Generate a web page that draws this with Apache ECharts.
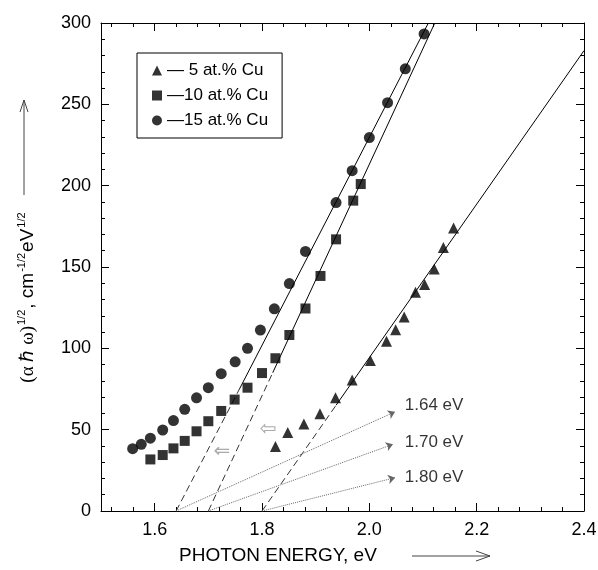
<!DOCTYPE html>
<html>
<head>
<meta charset="utf-8">
<script src="https://cdn.jsdelivr.net/npm/echarts@6/dist/echarts.min.js"></script>
<style>
  html, body { margin: 0; padding: 0; background: #fff; }
  #wrap { position: relative; width: 598px; height: 570px; }
  #chart, #notes { position: absolute; left: 0; top: 0; width: 598px; height: 570px; }
  #notes { pointer-events: none; }
</style>
</head>
<body>
<div id="wrap"><div id="chart"></div><div id="notes"></div></div>
<script>
const cu5X = [1.825, 1.848, 1.878, 1.908, 1.937, 1.968, 2.002, 2.032, 2.049, 2.065, 2.086, 2.103, 2.121, 2.138, 2.157];
const cu5Y = [39.6, 48.3, 53.5, 59.8, 69.6, 80.6, 92.5, 104.3, 111.4, 119.2, 134.5, 139.2, 148.8, 162, 174];

const cu10X = [1.592, 1.615, 1.635, 1.656, 1.678, 1.700, 1.724, 1.749, 1.773, 1.800, 1.825, 1.851, 1.881, 1.909, 1.938, 1.970, 1.984];
const cu10Y = [31.7, 34.4, 38.5, 43.1, 49, 55.2, 61.5, 68.5, 75.8, 84.8, 93.9, 108.2, 124.5, 144.5, 167, 190.8, 201];

const cu15X = [1.559, 1.575, 1.592, 1.615, 1.635, 1.656, 1.678, 1.700, 1.724, 1.750, 1.773, 1.797, 1.823, 1.851, 1.881, 1.938, 1.968, 2.000, 2.034, 2.067, 2.102];
const cu15Y = [38.3, 41, 44.8, 49.8, 55.6, 62.5, 69.6, 75.8, 84.4, 91.7, 100, 111.2, 124.3, 139.8, 159.6, 189.6, 209.2, 229.6, 251, 271.8, 293.3];

const seriesNames = ['\u2014 5 at.% Cu', '\u201410 at.% Cu', '\u201415 at.% Cu'];

// Linear fits: zero crossing, point where the dashed part turns solid, end point
const fit5 = [[1.80, 0], [1.938, 65], [2.40, 283]];
const fit10 = [[1.70, 0], [1.820, 85], [2.122, 300]];
const fit15 = [[1.64, 0], [1.758, 75], [2.110, 300]];

// Band-gap arrows and their labels
const gapValues = [1.64, 1.70, 1.80];
const gapArrowEnds = [[2.048, 61], [2.044, 41], [2.048, 20.5]];
const gapLabels = ['1.64 eV', '1.70 eV', '1.80 eV'];
const gapLabelPos = [[2.066, 65], [2.066, 42.5], [2.066, 21]];

const zip = (xs, ys) => xs.map((x, i) => [x, ys[i]]);
const FONT = 'Arial, "Liberation Sans", sans-serif';
const GRID = { left: 101, right: 14, top: 23, bottom: 59, containLabel: false, outerBoundsMode: 'none' };

// Frame with inward ticks (labels are drawn by the overlay's axes)
const xFrame = (position) => ({
  type: 'value', min: 1.5, max: 2.4, position,
  splitLine: { show: false },
  axisLine: { show: true, onZero: false, lineStyle: { color: '#000' } },
  axisTick: { show: true, inside: true, length: 8, lineStyle: { color: '#000' } },
  minorTick: { show: true, splitNumber: 5, length: 4, lineStyle: { color: '#000' } },
  minorSplitLine: { show: false },
  axisLabel: { show: false },
});
const yFrame = (position) => ({
  type: 'value', min: 0, max: 300, interval: 50, position,
  splitLine: { show: false },
  axisLine: { show: true, onZero: false, lineStyle: { color: '#000' } },
  axisTick: { show: true, inside: true, length: 8, lineStyle: { color: '#000' } },
  minorTick: { show: true, splitNumber: 5, length: 4, lineStyle: { color: '#000' } },
  minorSplitLine: { show: false },
  axisLabel: { show: false },
});

const fitSeries = (pts) => [
  {
    type: 'line', data: pts.slice(0, 2), showSymbol: false, silent: true,
    lineStyle: { color: '#333', width: 1, type: [7, 4] }, z: 1,
  },
  {
    type: 'line', data: pts.slice(1), showSymbol: false, silent: true,
    lineStyle: { color: '#000', width: 1 }, z: 1,
  },
];

const chart = echarts.init(document.getElementById('chart'));
chart.setOption({
  animation: false,
  grid: GRID,
  xAxis: [xFrame('bottom'), xFrame('top')],
  yAxis: [yFrame('left'), yFrame('right')],
  series: [
    ...fitSeries(fit5),
    ...fitSeries(fit10),
    ...fitSeries(fit15),
    {
      name: seriesNames[0], type: 'scatter', symbol: 'triangle', symbolSize: 11,
      itemStyle: { color: '#000' }, data: zip(cu5X, cu5Y), z: 3,
    },
    {
      name: seriesNames[1], type: 'scatter', symbol: 'rect', symbolSize: 10,
      itemStyle: { color: '#000' }, data: zip(cu10X, cu10Y), z: 3,
    },
    {
      name: seriesNames[2], type: 'scatter', symbol: 'circle', symbolSize: 11,
      itemStyle: { color: '#000' }, data: zip(cu15X, cu15Y), z: 3,
    },
  ],
});

// Overlay: tick labels, legend, gap arrows and titles on the same scales
const notes = echarts.init(document.getElementById('notes'));
notes.setOption({
  animation: false,
  grid: GRID,
  xAxis: {
    type: 'value', min: 1.5, max: 2.4,
    splitLine: { show: false }, axisLine: { show: false, onZero: false }, axisTick: { show: false },
    axisLabel: {
      showMinLabel: false, margin: 10, color: '#000',
      fontFamily: FONT, fontSize: 18, formatter: (v) => v.toFixed(1),
    },
  },
  yAxis: {
    type: 'value', min: 0, max: 300, interval: 50,
    splitLine: { show: false }, axisLine: { show: false }, axisTick: { show: false },
    axisLabel: { margin: 10, color: '#000', fontFamily: FONT, fontSize: 18 },
  },
  legend: {
    orient: 'vertical', left: 137, top: 53,
    padding: [9, 14, 9, 15], itemGap: 8, itemWidth: 10, itemHeight: 10,
    borderColor: '#000', borderWidth: 1,
    textStyle: { fontFamily: FONT, fontSize: 17, color: '#000' },
    data: [
      { name: seriesNames[0], icon: 'triangle' },
      { name: seriesNames[1], icon: 'rect' },
      { name: seriesNames[2], icon: 'circle' },
    ],
  },
  series: [
    ...seriesNames.map((n) => ({ name: n, type: 'scatter', data: [], itemStyle: { color: '#000' } })),
    {
      type: 'line', data: [],
      markLine: {
        symbol: ['none', 'arrow'], symbolSize: 7,
        label: { show: false },
        lineStyle: { color: '#666', width: 1, type: 'dotted' },
        data: gapValues.map((g, i) => [{ coord: [g, 0] }, { coord: gapArrowEnds[i] }]),
      },
    },
    {
      type: 'scatter', symbolSize: 0,
      data: gapLabels.map((t, i) => ({ name: t, value: gapLabelPos[i] })),
      label: {
        show: true, position: 'right', distance: 0, formatter: '{b}',
        color: '#000', fontFamily: FONT, fontSize: 17,
      },
    },
  ],
  graphic: [
    {
      type: 'text', x: 28, y: 297, rotation: Math.PI / 2,
      style: {
        text: '{m|(\u03b1 \u210f \u03c9)}{s|1/2}{t|, cm}{s|-1/2}{t|eV}{s|1/2}',
        align: 'center', verticalAlign: 'middle',
        rich: {
          m: { fontFamily: '"Liberation Serif", "Times New Roman", serif', fontSize: 19, fill: '#000', lineHeight: 24 },
          t: { fontFamily: FONT, fontSize: 19, fill: '#000', lineHeight: 24 },
          s: { fontFamily: FONT, fontSize: 11, fill: '#000', verticalAlign: 'top', lineHeight: 24, padding: [0, 1, 12, 1] },
        },
      },
    },
    { type: 'line', shape: { x1: 24, y1: 195, x2: 24, y2: 100 }, style: { stroke: '#444', lineWidth: 1 } },
    { type: 'polyline', shape: { points: [[20, 112], [24, 100], [28, 112]] }, style: { stroke: '#444', lineWidth: 1, fill: null } },
    {
      type: 'text', x: 179, y: 556,
      style: { text: 'PHOTON ENERGY, eV', fontFamily: FONT, fontSize: 19, fill: '#000', verticalAlign: 'middle' },
    },
    { type: 'line', shape: { x1: 412, y1: 556, x2: 490, y2: 556 }, style: { stroke: '#444', lineWidth: 1 } },
    { type: 'polyline', shape: { points: [[476, 551], [490, 556], [476, 561]] }, style: { stroke: '#444', lineWidth: 1, fill: null } },
    {
      type: 'text', x: 222, y: 452,
      style: { text: '\u21d0', fontFamily: '"DejaVu Sans", sans-serif', fontSize: 20, fill: '#aaa', align: 'center', verticalAlign: 'middle' },
    },
    {
      type: 'text', x: 268, y: 430,
      style: { text: '\u21e6', fontFamily: '"DejaVu Sans", sans-serif', fontSize: 20, fill: '#aaa', align: 'center', verticalAlign: 'middle' },
    },
  ],
});
</script>
</body>
</html>
